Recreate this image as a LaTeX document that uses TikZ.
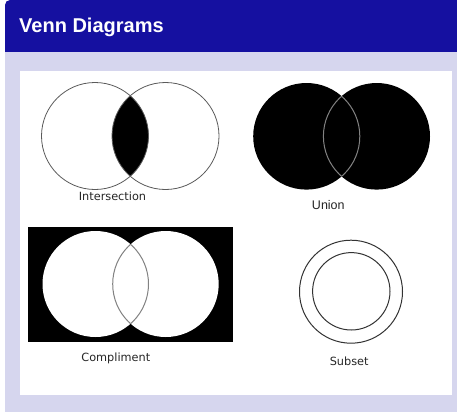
\documentclass[tikz,border=0pt]{standalone}
\usepackage{fontspec}
\setmainfont{DejaVu Sans}
\newfontfamily\arialfont{Liberation Sans}
\definecolor{titleblue}{RGB}{21,16,160}
\definecolor{lavender}{RGB}{214,214,238}
\definecolor{ringgray}{RGB}{90,90,90}
\definecolor{lensgray}{RGB}{130,130,130}
\begin{document}
\begin{tikzpicture}[x=1pt,y=-1pt,
  lbl/.style={anchor=base,inner sep=0pt,font=\fontsize{11.3}{13}\selectfont,text=black!85},
  ring/.style={draw=ringgray,line width=0.8pt},
  lens/.style={draw=lensgray,line width=1pt}]
\useasboundingbox (0,0) rectangle (457,412);
% background panels
\fill[lavender] (5,52) rectangle (457,412);
\fill[titleblue] (5,52) -- (5,5) arc(180:270:5) -- (457,0) -- (457,52) -- cycle;
\fill[white] (20,71) rectangle (452,395);
\node[anchor=base west,inner sep=0pt,text=white,font=\arialfont\bfseries\fontsize{20}{24}\selectfont] (title) at (19,32.7) {Venn Diagrams};
% Intersection
\begin{scope}
  \clip (95,136) circle (53.5);
  \fill[black] (165.5,136) circle (53.5);
\end{scope}
\draw[ring] (95,136) circle (53.5);
\draw[ring] (165.5,136) circle (53.5);
\node[lbl] (inter) at (112.5,200) {Intersection};
% Union
\fill[black] (306.5,136.3) circle (53.3);
\fill[black] (376.7,136.3) circle (53.3);
\begin{scope}
  \clip (306.5,136.3) circle (53.3);
  \draw[lens] (376.7,136.3) circle (53.3);
\end{scope}
\begin{scope}
  \clip (376.7,136.3) circle (53.3);
  \draw[lens] (306.5,136.3) circle (53.3);
\end{scope}
\node[lbl,font=\arialfont\fontsize{12.5}{14}\selectfont] (union) at (328.3,209.3) {Union};
% Compliment
\fill[black] (28.3,226.7) rectangle (233.3,342.3);
\fill[white] (95.5,284) circle (53);
\fill[white] (165.7,284) circle (53);
\begin{scope}
  \clip (95.5,284) circle (53);
  \draw[lens] (165.7,284) circle (53);
\end{scope}
\begin{scope}
  \clip (165.7,284) circle (53);
  \draw[lens] (95.5,284) circle (53);
\end{scope}
\node[lbl] (compl) at (115.8,361.7) {Compliment};
% Subset
\draw[draw=black!80,line width=1pt] (351,291.7) circle (51.5);
\draw[draw=black!80,line width=1pt] (351.3,291.3) circle (38.7);
\node[lbl] (subset) at (349.2,365) {Subset};
\end{tikzpicture}
\end{document}
